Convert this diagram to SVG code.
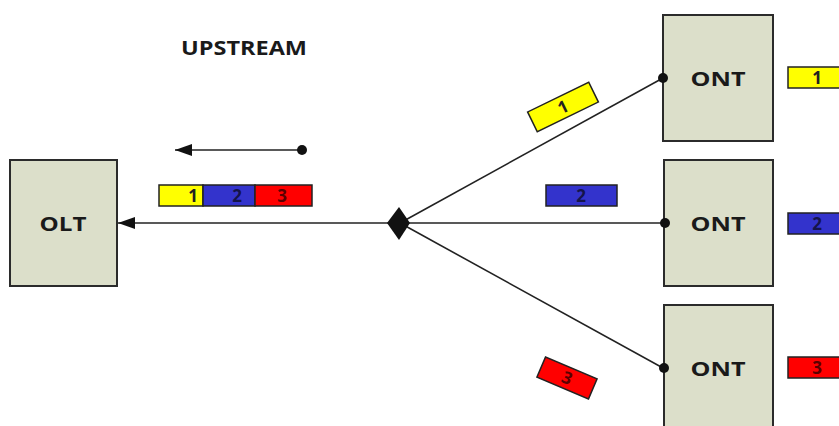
<svg xmlns="http://www.w3.org/2000/svg" width="839" height="426" viewBox="0 0 839 426">
<style>
.box{fill:#dcdfca;stroke:#2b2b2b;stroke-width:2}
.lbl{font-family:"Open Sans","Liberation Sans",sans-serif;font-weight:bold;font-size:20px;fill:#1a1a1a;text-anchor:middle}
.ln{stroke:#222;stroke-width:1.6;fill:none}
.pk{stroke:#222;stroke-width:1.5}
.num{font-family:"Open Sans","Liberation Sans",sans-serif;font-weight:bold;font-size:17px;text-anchor:middle}
.y{fill:#ffff00}.b{fill:#3333cc}.r{fill:#ff0000}
</style>
<defs>
<marker id="ah" markerWidth="19" markerHeight="14" refX="17" refY="7" orient="auto" markerUnits="userSpaceOnUse">
<path d="M0,1 L17,7 L0,13 Z" fill="#111"/>
</marker>
</defs>
<text x="244" y="55" class="lbl" font-size="19" textLength="126" lengthAdjust="spacingAndGlyphs">UPSTREAM</text>
<g id="olt">
<rect x="10" y="160" width="107" height="126" class="box"/>
<text x="63" y="231" class="lbl" textLength="47" lengthAdjust="spacingAndGlyphs">OLT</text>
</g>
<g id="ont1">
<rect x="663" y="15" width="110" height="126" class="box"/>
<text x="718" y="86" class="lbl" textLength="55" lengthAdjust="spacingAndGlyphs">ONT</text>
</g>
<g id="ont2">
<rect x="664" y="160" width="109" height="126" class="box"/>
<text x="718" y="231" class="lbl" textLength="55" lengthAdjust="spacingAndGlyphs">ONT</text>
</g>
<g id="ont3">
<rect x="664" y="305" width="109" height="130" class="box"/>
<text x="718" y="376" class="lbl" textLength="55" lengthAdjust="spacingAndGlyphs">ONT</text>
</g>
<g id="connectors">
<line x1="302" y1="150" x2="175" y2="150" class="ln" marker-end="url(#ah)"/>
<circle cx="302" cy="150" r="5" fill="#111"/>
<line x1="390" y1="223" x2="118" y2="223" class="ln" marker-end="url(#ah)"/>
<line x1="400" y1="223" x2="663" y2="78" class="ln"/>
<line x1="400" y1="223" x2="665" y2="223" class="ln"/>
<line x1="400" y1="223" x2="663" y2="368" class="ln"/>
<circle cx="663" cy="78" r="5" fill="#111"/>
<circle cx="665" cy="223" r="5" fill="#111"/>
<circle cx="664" cy="368" r="5" fill="#111"/>
</g>
<g id="splitter"><path d="M399,207 L410,223 L399,240 L387,223 Z" fill="#111"/></g>
<g id="upstream-frame">
<rect x="159" y="185" width="44" height="21" class="y pk"/>
<rect x="203" y="185" width="52" height="21" class="b pk"/>
<rect x="255" y="185" width="57" height="21" class="r pk"/>
<text x="193" y="202" class="num" fill="#222">1</text>
<text x="237" y="202" class="num" fill="#14144a">2</text>
<text x="282" y="202" class="num" fill="#5a0000">3</text>
</g>
<g id="packet1">
<g transform="translate(563,107) rotate(-26)">
<rect x="-34" y="-11" width="68" height="22" class="y pk"/>
<text x="0" y="6" class="num" font-family="Liberation Serif,serif" font-weight="normal" fill="#222">1</text>
</g>
</g>
<g id="packet2">
<rect x="546" y="185" width="71" height="21" class="b pk"/>
<text x="581" y="202" class="num" fill="#14144a">2</text>
</g>
<g id="packet3">
<g transform="translate(567,378) rotate(23)">
<rect x="-28" y="-11" width="56" height="22" class="r pk"/>
<text x="0" y="6" class="num" font-weight="normal" fill="#5a0000">3</text>
</g>
</g>
<g id="ont-packets">
<rect x="788" y="67" width="70" height="21" class="y pk"/>
<text x="817" y="84" class="num" font-weight="normal" fill="#222">1</text>
<rect x="788" y="213" width="70" height="21" class="b pk"/>
<text x="817" y="230" class="num" font-weight="normal" fill="#14144a">2</text>
<rect x="788" y="357" width="70" height="21" class="r pk"/>
<text x="817" y="374" class="num" font-weight="normal" fill="#5a0000">3</text>
</g>
</svg>
